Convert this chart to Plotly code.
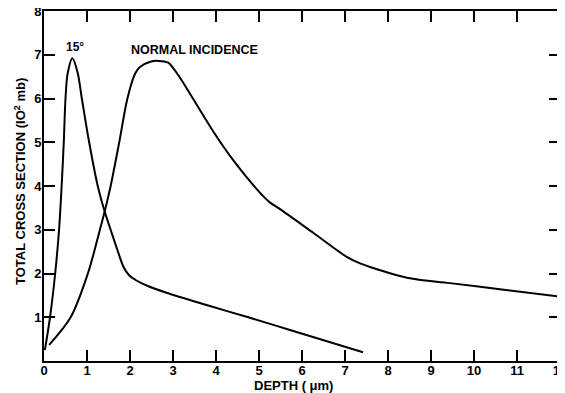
import plotly.graph_objects as go

# 15 degree incidence
depth_15 = [0.02, 0.14, 0.26, 0.35, 0.41, 0.46, 0.50, 0.55, 0.66, 0.78, 0.88, 1.05, 1.25, 1.40, 1.55, 1.72, 1.85, 1.98, 2.15, 2.40, 2.85, 3.78, 4.71, 5.72, 7.42]
xsec_15 = [0.25, 1.0, 2.0, 3.0, 4.0, 5.0, 6.0, 6.57, 6.92, 6.6, 6.0, 5.0, 4.0, 3.45, 3.0, 2.5, 2.15, 1.96, 1.84, 1.72, 1.56, 1.28, 1.01, 0.71, 0.2]

# normal incidence
depth_n = [0.12, 0.62, 1.02, 1.30, 1.42, 1.55, 1.75, 1.94, 2.12, 2.23, 2.47, 2.66, 2.89, 3.00, 3.16, 3.94, 4.40, 5.02, 5.26, 5.49, 6.26, 7.04, 7.35, 7.58, 8.51, 9.44, 10.6, 12.0]
xsec_n = [0.37, 1.0, 2.0, 3.0, 3.45, 4.0, 5.0, 6.0, 6.57, 6.72, 6.84, 6.86, 6.82, 6.7, 6.48, 5.24, 4.59, 3.85, 3.62, 3.47, 2.93, 2.38, 2.23, 2.15, 1.89, 1.78, 1.64, 1.47]

x_ticks = [0, 1, 2, 3, 4, 5, 6, 7, 8, 9, 10, 11, 12]
x_ticklabels = ["0", "1", "2", "3", "4", "5", "6", "7", "8", "9", "10", "11", "12"]
y_ticks = [1, 2, 3, 4, 5, 6, 7, 8]
y_ticklabels = ["1", "2", "3", "4", "5", "6", "7", "8"]

FONT = "Liberation Sans"

fig = go.Figure()
fig.add_trace(go.Scatter(x=depth_15, y=xsec_15, mode="lines",
                         line=dict(color="black", width=2, shape="spline", smoothing=0.9),
                         showlegend=False, hoverinfo="skip"))
fig.add_trace(go.Scatter(x=depth_n, y=xsec_n, mode="lines",
                         line=dict(color="black", width=2, shape="spline", smoothing=0.9),
                         showlegend=False, hoverinfo="skip"))

axis_common = dict(showline=True, linecolor="black", linewidth=2, mirror="ticks",
                   ticks="inside", ticklen=11, tickwidth=1.5, tickcolor="black",
                   showgrid=False, zeroline=False, automargin=False,
                   ticklabeloverflow="allow",
                   tickfont=dict(family=FONT, size=13, color="black", weight="bold"))

fig.update_xaxes(range=[0, 12], tickvals=x_ticks, ticktext=x_ticklabels,
                 ticklabelstandoff=-4, **axis_common)
fig.update_yaxes(range=[0, 8], tickvals=y_ticks, ticktext=y_ticklabels,
                 ticklabelstandoff=-2, **axis_common)

fig.add_annotation(x=0.72, y=7.18, text="15°", showarrow=False,
                   font=dict(family=FONT, size=12, color="black", weight="bold"))
fig.add_annotation(x=3.51, y=7.12, text="NORMAL INCIDENCE", showarrow=False,
                   font=dict(family=FONT, size=12.5, color="black", weight="bold"))
fig.add_annotation(xref="paper", yref="paper", x=(293 - 44) / 516, y=(361 - 385) / 350,
                   xanchor="center", yanchor="middle",
                   text="DEPTH ( μm)", showarrow=False,
                   font=dict(family=FONT, size=13, color="black", weight="bold"))
fig.add_annotation(xref="paper", yref="paper", x=(20 - 44) / 516, y=(361 - 182) / 350,
                   xanchor="center", yanchor="middle",
                   text="TOTAL CROSS SECTION (IO<sup>2</sup> mb)", textangle=-90, showarrow=False,
                   font=dict(family=FONT, size=13, color="black", weight="bold"))

# the page body adds an 8px offset, so the figure is 8px smaller than the window
fig.update_layout(width=557, height=385, margin=dict(l=36, r=5, t=3, b=32),
                  paper_bgcolor="white", plot_bgcolor="white")

fig.write_html("out.html")
